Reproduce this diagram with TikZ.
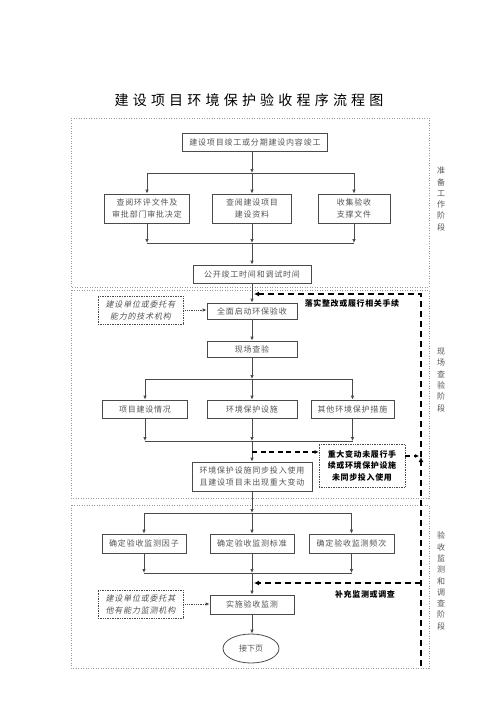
\documentclass[tikz,border=0pt]{standalone}
\usepackage{fontspec}
\setmainfont{Noto Sans CJK SC}
\newfontfamily\cjkslant[FakeSlant=0.2]{Noto Sans CJK SC}
\usetikzlibrary{arrows.meta,shapes.geometric}
\definecolor{boxc}{HTML}{4A4A4A}
\definecolor{txtc}{HTML}{555555}
\definecolor{panc}{HTML}{9A9A9A}
\tikzset{
  bx/.style={draw=boxc, line width=0.8pt, fill=white, inner sep=0pt, align=center,
    text=txtc, font=\fontsize{8}{12}\selectfont\addfontfeature{LetterSpace=10}},
  dbx/.style={draw=boxc, densely dotted, line width=0.7pt, fill=white, inner sep=0pt, align=center},
  panel/.style={draw=panc, line width=0.8pt, dash pattern=on 1pt off 1.5pt},
  conn/.style={draw=boxc, line width=0.9pt},
  arr/.style={conn, -{Latex[length=4pt,width=3.6pt]}},
  dotarr/.style={draw=boxc, line width=0.8pt, densely dotted, -{Latex[length=4pt,width=3.6pt]}},
  thdash/.style={draw=black, line width=1.7pt, dash pattern=on 6pt off 4pt},
  mdash/.style={draw=black, line width=1.3pt, dash pattern=on 5pt off 3.5pt},
  side/.style={text=txtc, align=center, font=\fontsize{8}{11.3}\selectfont},
  blab/.style={font=\fontsize{8}{11.5}\selectfont\bfseries\addfontfeature{LetterSpace=8}, text=black},
}
\begin{document}
\begin{tikzpicture}[x=1pt,y=-1pt]
\useasboundingbox (0,0) rectangle (499,706);
\fill[white] (0,0) rectangle (499,706);
% title
\node (title) at (249,100) {\fontsize{14}{16}\selectfont\addfontfeature{LetterSpace=30}建设项目环境保护验收程序流程图};
% panels
\draw[panel] (71,118) rectangle (429,287);
\draw[panel] (71,290) rectangle (429,498);
\draw[panel] (71,505) rectangle (429,668);
\node[side] (sl1) at (441,199) {准\\备\\工\\作\\阶\\段};
\node[side] (sl2) at (441,380) {现\\场\\查\\验\\阶\\段};
\node[side] (sl3) at (441,581) {验\\收\\监\\测\\和\\调\\查\\阶\\段};
% panel 1
\node[bx, minimum width=145pt, minimum height=18pt] (b1) at (255,142) {建设项目竣工或分期建设内容竣工};
\coordinate (s1) at (252,173);
\node[bx, minimum width=85pt, minimum height=29pt] (b2) at (147,208.5) {查阅环评文件及\\审批部门审批决定};
\node[bx, minimum width=79pt, minimum height=29pt] (b3) at (252,208.5) {查阅建设项目\\建设资料};
\node[bx, minimum width=72pt, minimum height=29pt] (b4) at (354,208.5) {收集验收\\支撑文件};
\coordinate (j1) at (252,243);
\node[bx, minimum width=118pt, minimum height=18pt] (b5) at (252,274) {公开竣工时间和调试时间};
\draw[arr] (b1.south -| s1) -- (s1);
\draw[conn] (b2 |- s1) -- (b4 |- s1);
\draw[arr] (b2 |- s1) -- (b2.north);
\draw[arr] (b3 |- s1) -- (b3.north);
\draw[arr] (b4 |- s1) -- (b4.north);
\draw[arr] (b2.south) -- (b2 |- j1);
\draw[arr] (b3.south) -- (b3 |- j1);
\draw[arr] (b4.south) -- (b4 |- j1);
\draw[conn] (b2 |- j1) -- (b4 |- j1);
\draw[arr] (j1) -- (b5.north);
% panel 2
\node[bx, minimum width=90pt, minimum height=16pt] (b6) at (252,311) {全面启动环保验收};
\node[dbx, minimum width=85pt, minimum height=28pt, text=txtc, font=\fontsize{8}{12}\selectfont\cjkslant\addfontfeature{LetterSpace=10}] (d1) at (140.5,310) {建设单位或委托有\\能力的技术机构};
\draw[arr] (b5.south) -- (b6.north);
\draw[dotarr] (d1.east) -- (d1.east -| b6.west);
\node[bx, minimum width=90pt, minimum height=16pt] (b7) at (252,349) {现场查验};
\draw[arr] (b6.south) -- (b7.north);
\coordinate (s2) at (252,379);
\node[bx, minimum width=85pt, minimum height=18pt] (b8) at (145,409) {项目建设情况};
\node[bx, minimum width=90pt, minimum height=18pt] (b9) at (252,409) {环境保护设施};
\node[bx, minimum width=83pt, minimum height=18pt] (b10) at (352.5,409) {其他环境保护措施};
\coordinate (j2) at (252,441);
\draw[arr] (b7.south) -- (s2);
\draw[conn] (b8 |- s2) -- (b10 |- s2);
\draw[arr] (b8 |- s2) -- (b8.north);
\draw[arr] (b9 |- s2) -- (b9.north);
\draw[arr] (b10 |- s2) -- (b10.north);
\draw[arr] (b8.south) -- (b8 |- j2);
\draw[arr] (b9.south) -- (b9 |- j2);
\draw[arr] (b10.south) -- (b10 |- j2);
\draw[conn] (b8 |- j2) -- (b10 |- j2);
\node[bx, minimum width=120pt, minimum height=29pt] (b11) at (252,476.5) {环境保护设施同步投入使用\\且建设项目未出现重大变动};
\draw[arr] (j2) -- (b11.north);
\node[dbx, minimum width=86pt, minimum height=43pt, blab] (d2) at (362,465.5) {重大变动未履行手\\续或环境保护设施\\未同步投入使用};
\coordinate (br) at (252,452);
\draw[mdash, -{Latex[length=4pt,width=4pt]}] (br) -- (br -| d2.west);
\node[blab] (l1) at (352,303) {落实整改或履行相关手续};
% thick dashed feedback
\coordinate (vb) at (421,666);
\coordinate (vm) at (421,457);
\coordinate (vt) at (421,294);
\coordinate (rt) at (254,294);
\coordinate (rb) at (421,583);
\coordinate (rbe) at (254,583);
\coordinate (ra) at (419,456);
\draw[thdash, -{Latex[length=5pt,width=5pt]}] (vb) -- (vm);
\draw[thdash, -{Latex[length=5pt,width=5pt]}] (vm) -- (vt) -- (rt);
\draw[thdash, -{Latex[length=5pt,width=5pt]}] (rb) -- (rbe);
\draw[mdash, -{Latex[length=4pt,width=4pt]}] (d2.east |- ra) -- (ra);
% panel 3
\coordinate (s3) at (252,513);
\draw[arr] (b11.south) -- (s3);
\node[bx, minimum width=84pt, minimum height=19pt] (b12) at (144,543.5) {确定验收监测因子};
\node[bx, minimum width=84pt, minimum height=19pt] (b13) at (252,543.5) {确定验收监测标准};
\node[bx, minimum width=85pt, minimum height=19pt] (b14) at (351.5,543.5) {确定验收监测频次};
\coordinate (j3) at (252,573);
\draw[conn] (b12 |- s3) -- (b14 |- s3);
\draw[arr] (b12 |- s3) -- (b12.north);
\draw[arr] (b13 |- s3) -- (b13.north);
\draw[arr] (b14 |- s3) -- (b14.north);
\draw[arr] (b12.south) -- (b12 |- j3);
\draw[arr] (b13.south) -- (b13 |- j3);
\draw[arr] (b14.south) -- (b14 |- j3);
\draw[conn] (b12 |- j3) -- (b14 |- j3);
\node[bx, minimum width=84pt, minimum height=19pt] (b15) at (252,604.5) {实施验收监测};
\draw[arr] (j3) -- (b15.north);
\node[blab] (l2) at (365,594) {补充监测或调查};
\node[dbx, minimum width=85pt, minimum height=28pt, text=txtc, font=\fontsize{8}{12}\selectfont\cjkslant\addfontfeature{LetterSpace=10}] (d3) at (140.5,604) {建设单位或委托其\\他有能力监测机构};
\draw[dotarr] (d3.east) -- (d3.east -| b15.west);
\node[ellipse, draw=boxc, line width=0.8pt, fill=white, inner sep=0pt, minimum width=56pt, minimum height=29pt, text=txtc, font=\fontsize{8}{12}\selectfont] (e1) at (251,648.5) {接下页};
\draw[arr] (b15.south) -- (b15.south |- e1.north);
\end{tikzpicture}
\end{document}
